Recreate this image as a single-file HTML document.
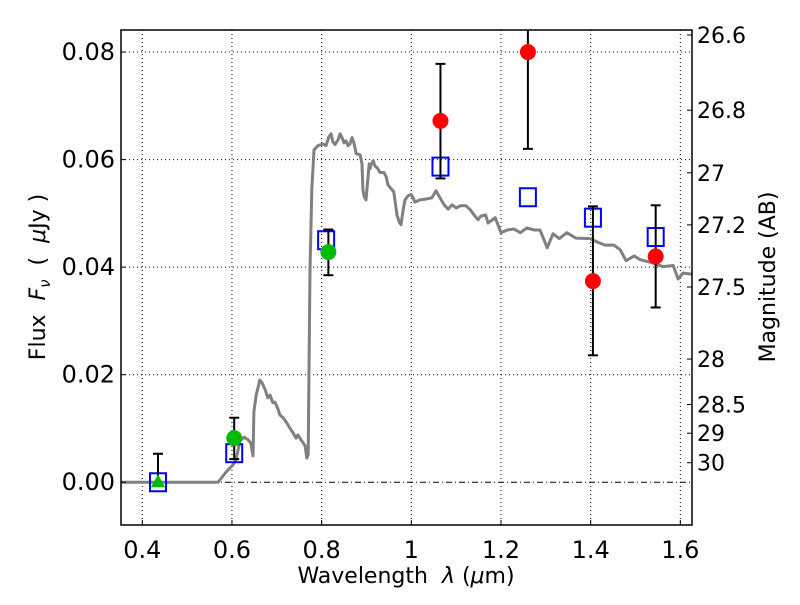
<!DOCTYPE html>
<html><head><meta charset="utf-8"><style>
body{margin:0;background:#fff}
svg text{font-family:"DejaVu Sans","Liberation Sans",sans-serif;fill:#000}
</style></head><body>
<svg id="chart" width="800" height="600" xmlns="http://www.w3.org/2000/svg">
<defs><clipPath id="plotclip"><rect x="121" y="30" width="571" height="495"/></clipPath></defs>
<g id="grid"></g>
<g id="series" clip-path="url(#plotclip)"></g>
<rect x="121" y="30" width="571" height="495" fill="none" stroke="#000" stroke-width="1.5"/>
<g id="axes"></g>
<text x="406" y="583" font-size="22" text-anchor="middle" xml:space="preserve">Wavelength  <tspan font-style="italic">λ</tspan> (<tspan font-style="italic">μ</tspan>m)</text>
<text transform="translate(45,277) rotate(-90)" font-size="22" text-anchor="middle" xml:space="preserve">Flux  <tspan font-style="italic">F</tspan><tspan font-style="italic" font-size="15" dy="5">ν</tspan><tspan dy="-5">  (  </tspan><tspan font-style="italic">μ</tspan>Jy )</text>
<text transform="translate(775,277) rotate(-90)" font-size="22" text-anchor="middle">Magnitude (AB)</text>
</svg>
<script>
const xTicks=[0.4,0.6,0.8,1,1.2,1.4,1.6];
const xTickLabels=["0.4","0.6","0.8","1","1.2","1.4","1.6"];
const yTicks=[0,0.02,0.04,0.06,0.08];
const yTickLabels=["0.00","0.02","0.04","0.06","0.08"];
const magTicks=[26.6,26.8,27,27.2,27.5,28,28.5,29,30];
const magTickLabels=["26.6","26.8","27","27.2","27.5","28","28.5","29","30"];
const specLam=[0.352,0.569,0.587,0.602,0.609,0.618,0.627,0.636,0.642,0.647,0.649,0.654,0.662,0.667,0.674,0.680,0.685,0.691,0.696,0.703,0.707,0.714,0.721,0.729,0.736,0.743,0.747,0.754,0.763,0.767,0.770,0.772,0.774,0.778,0.783,0.792,0.803,0.810,0.816,0.821,0.825,0.830,0.837,0.841,0.845,0.850,0.854,0.859,0.863,0.868,0.872,0.877,0.886,0.890,0.892,0.895,0.899,0.901,0.906,0.908,0.910,0.915,0.919,0.924,0.930,0.939,0.944,0.948,0.953,0.961,0.968,0.973,0.977,0.982,0.986,0.993,1.000,1.004,1.008,1.019,1.035,1.046,1.055,1.064,1.073,1.082,1.091,1.100,1.109,1.122,1.131,1.140,1.149,1.155,1.166,1.171,1.187,1.200,1.214,1.229,1.243,1.258,1.274,1.287,1.303,1.316,1.330,1.347,1.367,1.399,1.414,1.432,1.452,1.466,1.479,1.497,1.510,1.537,1.561,1.584,1.595,1.606,1.626];
const specFlux=[0,0,0.0019,0.0032,0.0042,0.0077,0.0084,0.0079,0.0073,0.0049,0.0131,0.0162,0.0190,0.0185,0.0172,0.0157,0.0162,0.0148,0.0149,0.0135,0.0125,0.0120,0.0112,0.0101,0.0092,0.0082,0.0088,0.0079,0.0068,0.0045,0.0051,0.0228,0.0395,0.0544,0.0618,0.0626,0.0629,0.0626,0.0642,0.0648,0.0633,0.0628,0.0637,0.0648,0.0642,0.0631,0.0635,0.0626,0.0629,0.0641,0.0631,0.0611,0.0609,0.0592,0.0544,0.0531,0.0525,0.0544,0.0592,0.0583,0.0590,0.0598,0.0588,0.0585,0.0576,0.0576,0.0568,0.0553,0.0548,0.0540,0.0497,0.0484,0.0479,0.0507,0.0525,0.0533,0.0535,0.0529,0.0521,0.0525,0.0527,0.0529,0.0542,0.0529,0.0516,0.0508,0.0516,0.0510,0.0514,0.0514,0.0507,0.0497,0.0488,0.0495,0.0497,0.0482,0.0492,0.0464,0.0469,0.0471,0.0464,0.0473,0.0469,0.0469,0.0436,0.0462,0.0453,0.0464,0.0454,0.0453,0.0447,0.0441,0.0441,0.0432,0.0412,0.0421,0.0414,0.0408,0.0401,0.0403,0.0378,0.0389,0.0387];
const modelLam=[0.435,0.605,0.81,1.065,1.26,1.405,1.545];
const modelFlux=[0,0.0054,0.0450,0.0587,0.0530,0.0492,0.0456];
const greenLam=[0.605,0.815];
const greenFlux=[0.0082,0.0428];
const greenLo=[0.0043,0.0385];
const greenHi=[0.0120,0.0470];
const redLam=[1.065,1.26,1.405,1.545];
const redFlux=[0.0672,0.0800,0.0374,0.0420];
const redLo=[0.0565,0.0620,0.0236,0.0325];
const redHi=[0.0778,0.0980,0.0513,0.0515];
const limLam=[0.435];
const limFlux=[0];
const limHi=[0.0053];

const X0=121,X1=692,Y0=30,Y1=525;
const xmin=0.3525,xmax=1.626,ymin=-0.00795,ymax=0.0841;
const sx=v=>X0+(v-xmin)/(xmax-xmin)*(X1-X0);
const sy=v=>Y1-(v-ymin)/(ymax-ymin)*(Y1-Y0);
const NS="http://www.w3.org/2000/svg";
function mk(tag,attrs,parent){const e=document.createElementNS(NS,tag);for(const k in attrs)e.setAttribute(k,attrs[k]);parent.appendChild(e);return e;}
const grid=document.getElementById('grid'),ser=document.getElementById('series'),axes=document.getElementById('axes');

xTicks.forEach((t,i)=>{
  const x=sx(t);
  const g=mk('line',{x1:x,x2:x,y1:Y0,y2:Y1,stroke:'#000','stroke-width':1,'stroke-dasharray':'1,3'},grid);
  
  
  const tk=mk('line',{x1:x,x2:x,y1:Y1,y2:Y1-5,stroke:'#000','stroke-width':1},axes);
  
  
  const tx=mk('text',{x:x,y:Y1+33,'font-size':24,'text-anchor':'middle'},axes);
  tx.textContent=xTickLabels[i];
  
  
});
yTicks.forEach((t,i)=>{
  const y=sy(t);
  const g=mk('line',{x1:X0,x2:X1,y1:y,y2:y,stroke:'#000','stroke-width':1,'stroke-dasharray':t===0?'6,3,1,3':'1,3'},grid);
  
  
  const tk=mk('line',{x1:X0,x2:X0+5,y1:y,y2:y,stroke:'#000','stroke-width':1},axes);
  
  
  const tx=mk('text',{x:X0-6,y:y+8,'font-size':24,'text-anchor':'end'},axes);
  tx.textContent=yTickLabels[i];
  
  
});
magTicks.forEach((m,i)=>{
  const y=sy(Math.pow(10,(23.9-m)/2.5));
  const tk=mk('line',{x1:X1-5,x2:X1,y1:y,y2:y,stroke:'#000','stroke-width':1},axes);
  
  
  const tx=mk('text',{x:X1+5,y:y+8,'font-size':22},axes);
  tx.textContent=magTickLabels[i];
  
  
});

const pts=specLam.map((l,i)=>sx(l).toFixed(1)+','+sy(specFlux[i]).toFixed(1)).join(' ');
const sp=mk('polyline',{points:pts,fill:'none',stroke:'#808080','stroke-width':3,'stroke-linejoin':'round'},ser);



function errbar(l,lo,hi,name){
  const x=sx(l);
  const e=mk('g',{stroke:'#000','stroke-width':2},ser);
  
  
  mk('line',{x1:x,x2:x,y1:sy(lo),y2:sy(hi)},e);
  mk('line',{x1:x-5,x2:x+5,y1:sy(lo),y2:sy(lo)},e);
  mk('line',{x1:x-5,x2:x+5,y1:sy(hi),y2:sy(hi)},e);
}
modelLam.forEach((l,i)=>{
  const r=mk('rect',{x:sx(l)-8,y:sy(modelFlux[i])-9,width:16,height:18,fill:'none',stroke:'#0000ff','stroke-width':2},ser);
  
  
});
limLam.forEach((l,i)=>{
  const x=sx(l),y=sy(limFlux[i]);
  const ln=mk('line',{x1:x,x2:x,y1:y,y2:sy(limHi[i]),stroke:'#000','stroke-width':2},ser);
  
  
  const cp=mk('line',{x1:x-5,x2:x+5,y1:sy(limHi[i]),y2:sy(limHi[i]),stroke:'#000','stroke-width':2},ser);
  
  
  const tr=mk('polygon',{points:`${x},${y-8} ${x-7},${y+5} ${x+7},${y+5}`,fill:'#00bb00'},ser);
  
  
});
greenLam.forEach((l,i)=>{
  errbar(l,greenLo[i],greenHi[i],'green-errorbar');
  const c=mk('circle',{cx:sx(l),cy:sy(greenFlux[i]),r:8,fill:'#00bb00'},ser);
  
  
});
redLam.forEach((l,i)=>{
  errbar(l,redLo[i],redHi[i],'red-errorbar');
  const c=mk('circle',{cx:sx(l),cy:sy(redFlux[i]),r:8,fill:'#ff0000'},ser);
  
  
});
</script>
</body></html>
